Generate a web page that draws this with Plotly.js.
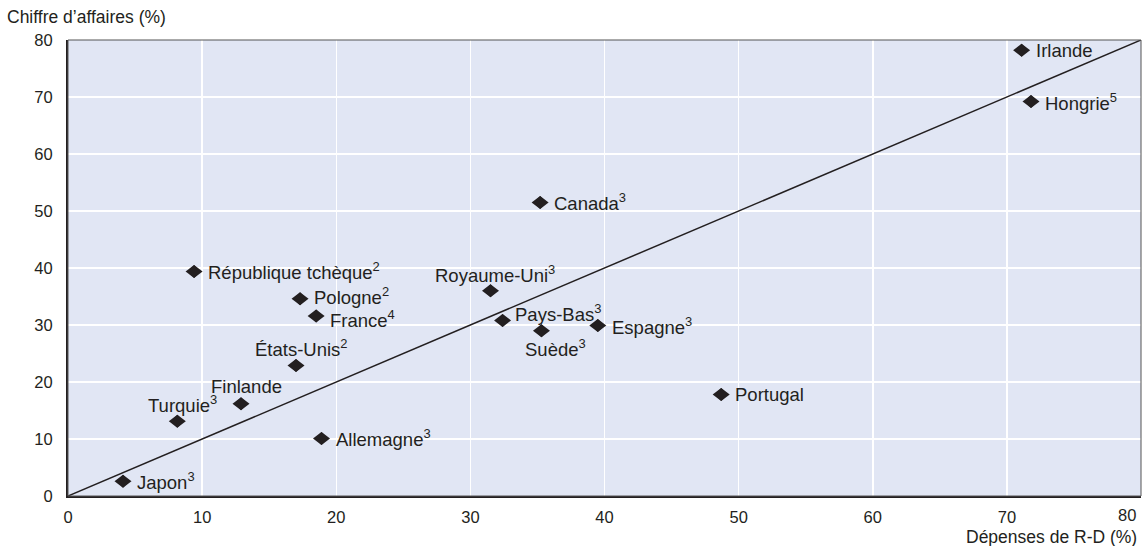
<!DOCTYPE html>
<html><head><meta charset="utf-8">
<script src="https://cdn.plot.ly/plotly-3.0.1.min.js"></script>
<style>html,body{margin:0;padding:0;background:#fff;}#chart{width:1142px;height:546px;}</style>
</head><body><div id="chart"></div>
<script>
const countries = ["Irlande","Hongrie<sup>5</sup>","Canada<sup>3</sup>","République tchèque<sup>2</sup>","Royaume-Uni<sup>3</sup>","Pologne<sup>2</sup>","France<sup>4</sup>","Pays-Bas<sup>3</sup>","Suède<sup>3</sup>","Espagne<sup>3</sup>","États-Unis<sup>2</sup>","Portugal","Finlande","Turquie<sup>3</sup>","Allemagne<sup>3</sup>","Japon<sup>3</sup>"];
const rdSpending = [71.1, 71.8, 35.2, 9.4, 31.5, 17.3, 18.5, 32.4, 35.3, 39.5, 17.0, 48.7, 12.9, 8.15, 18.9, 4.1];
const turnover   = [78.2, 69.2, 51.5, 39.4, 36.0, 34.6, 31.6, 30.8, 29.0, 29.9, 22.9, 17.8, 16.2, 13.1, 10.1, 2.6];
const labelPos = ["right","right","right","right","top","rightup","rightdown","topright","bottom","right","top","right","top","top","right","right"];
const diagX = [0, 80];
const diagY = [0, 80];
const tickVals = [0,10,20,30,40,50,60,70,80];

const ink = "#231f20";
const font = "'Liberation Sans', Arial, Helvetica, sans-serif";
const labelFont = {family: font, size: 18.5, color: ink};
const tickFont = {family: font, size: 16.5, color: ink};

const posStyle = {
  right:     {xanchor: "left",   yanchor: "middle", xshift: 12, yshift: 0},
  rightup:   {xanchor: "left",   yanchor: "middle", xshift: 12, yshift: 3},
  rightdown: {xanchor: "left",   yanchor: "middle", xshift: 12, yshift: -3},
  top:       {xanchor: "center", yanchor: "middle", xshift: 5,  yshift: 17},
  topright:  {xanchor: "left",   yanchor: "middle", xshift: 10, yshift: 7},
  bottom:    {xanchor: "center", yanchor: "middle", xshift: 14, yshift: -17}
};

const traces = [
  {x: diagX, y: diagY, mode: "lines", line: {color: ink, width: 1.5}, hoverinfo: "skip", cliponaxis: false},
  {x: rdSpending, y: turnover, mode: "markers", text: countries,
   marker: {symbol: "diamond", size: 10, color: ink}, cliponaxis: false}
];

const annotations = countries.map((c, i) => Object.assign({
  text: c, x: rdSpending[i], y: turnover[i], xref: "x", yref: "y",
  showarrow: false, font: labelFont
}, posStyle[labelPos[i]]));

// last x tick label sits flush with the right edge of the plot
const lastTick = tickVals[tickVals.length - 1];
annotations.push(
  {text: String(lastTick), xref: "x", yref: "paper", x: lastTick, y: 0, xshift: -3, yshift: -19,
   xanchor: "right", yanchor: "middle", showarrow: false, font: tickFont},
  {text: "Chiffre d’affaires (%)", xref: "paper", yref: "paper", x: 0, xshift: -63, y: 1, yshift: 23,
   xanchor: "left", yanchor: "middle", showarrow: false, font: {family: font, size: 17.5, color: ink}},
  {text: "Dépenses de R-D (%)", xref: "paper", yref: "paper", x: 1, xshift: -2, y: 0, yshift: -41,
   xanchor: "right", yanchor: "middle", showarrow: false, font: {family: font, size: 17.5, color: ink}}
);

const shapes = [{type: "rect", xref: "paper", yref: "paper", x0: 0, x1: 1, y0: 0, y1: 1,
                 line: {color: "#555555", width: 1}, layer: "above"}];
rdSpending.forEach((xv, i) => shapes.push({
  type: "path", xref: "x", yref: "y", xsizemode: "pixel", ysizemode: "pixel",
  xanchor: xv, yanchor: turnover[i], path: "M 8.5 0 L 0 6.5 L -8.5 0 L 0 -6.5 Z",
  fillcolor: ink, line: {width: 0}, layer: "above"
}));

const layout = {
  width: 1142, height: 546,
  margin: {l: 68, r: 1, t: 40, b: 50},
  paper_bgcolor: "#ffffff", plot_bgcolor: "#e1e6f4",
  showlegend: false,
  font: {family: font, color: ink},
  xaxis: {range: [0, 80], tickvals: tickVals.slice(0, -1), showgrid: true, gridcolor: "#ffffff", gridwidth: 1.5,
          zeroline: false, showline: true, linecolor: ink, linewidth: 2, ticks: "outside", ticklen: 5, tickcolor: "rgba(0,0,0,0)",
          tickfont: tickFont, fixedrange: true},
  yaxis: {range: [0, 80], tickvals: tickVals, showgrid: true, gridcolor: "#ffffff", gridwidth: 1.5,
          zeroline: false, showline: true, linecolor: ink, linewidth: 2, ticks: "outside", ticklen: 10, tickcolor: "rgba(0,0,0,0)",
          tickfont: tickFont, fixedrange: true},
  shapes: shapes,
  annotations: annotations
};

Plotly.newPlot("chart", traces, layout, {displayModeBar: false, staticPlot: true});
</script></body></html>
